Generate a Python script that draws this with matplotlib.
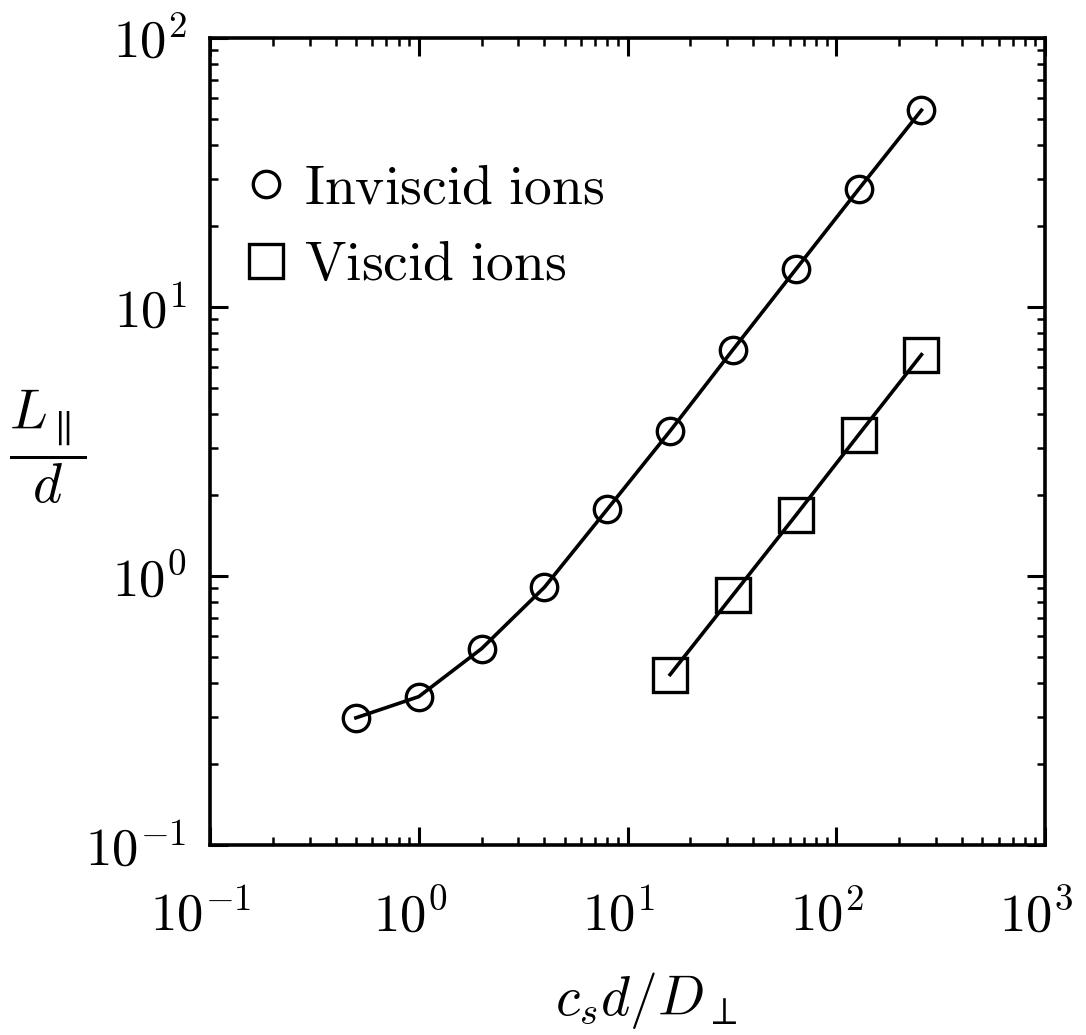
import numpy as np
import matplotlib
matplotlib.use("Agg")
import matplotlib.pyplot as plt
import matplotlib.transforms as mtransforms
from matplotlib.ticker import LogLocator, NullFormatter, FuncFormatter

# Data
x_inviscid = [0.5, 1, 2, 4, 8, 16, 32, 64, 128, 256]
y_inviscid = [0.297, 0.356, 0.537, 0.908, 1.77, 3.46, 6.94, 13.8, 27.4, 53.9]
x_viscid = [16, 32, 64, 128, 256]
y_viscid = [0.43, 0.85, 1.68, 3.35, 6.65]
labels = ["Inviscid ions", "Viscid ions"]

plt.rcParams['mathtext.fontset'] = 'cm'
plt.rcParams['font.family'] = ['DejaVu Serif']

fig = plt.figure(figsize=(10.86, 10.35), dpi=100)
ax = fig.add_axes([210/1086, 1 - 845/1035, (1045-210)/1086, (845-38)/1035])

def mlabel(s):
    return r'$\mathrm{' + s.replace(' ', r'\ ') + '}$'

ax.plot(x_inviscid, y_inviscid, color='black', lw=2.6, marker='o', ms=19,
        mfc='none', mec='black', mew=2.4, label=mlabel(labels[0]))
ax.plot(x_viscid, y_viscid, color='black', lw=2.6, marker='s', ms=25,
        mfc='none', mec='black', mew=2.4, label=mlabel(labels[1]))

ax.set_xscale('log')
ax.set_yscale('log')
ax.set_xlim(0.1, 1000)
ax.set_ylim(0.1, 100)

fmt = FuncFormatter(lambda v, p: r'$10^{%d}$' % int(round(np.log10(v))))
for a in (ax.xaxis, ax.yaxis):
    a.set_major_locator(LogLocator(base=10, numticks=10))
    a.set_minor_locator(LogLocator(base=10, subs=np.arange(2, 10), numticks=20))
    a.set_minor_formatter(NullFormatter())
    a.set_major_formatter(fmt)

ax.tick_params(which='both', direction='in', top=True, right=True, color='black')
ax.tick_params(which='major', length=13, width=2.2, labelsize=38)
ax.tick_params(which='minor', length=6, width=1.8)
ax.tick_params(axis='y', which='major', pad=17)
ax.tick_params(axis='x', which='major', pad=33)
for s in ax.spines.values():
    s.set_linewidth(2.6)

# shift x tick labels so the "10" sits centred under the tick
offset = mtransforms.ScaledTranslation(-9/100, 0, fig.dpi_scale_trans)
for lab in ax.xaxis.get_majorticklabels():
    lab.set_transform(lab.get_transform() + offset)

ax.set_xlabel(r'$c_s d/D_\perp$', fontsize=40, va='center')
ax.xaxis.set_label_coords(0.522, -0.193)
ax.set_ylabel(r'$\dfrac{L_{\parallel}}{d}$', fontsize=40, rotation=0, va='center', ha='center')
ax.yaxis.set_label_coords(-0.195, 0.493)

leg = ax.legend(loc='upper left', bbox_to_anchor=(-0.02, 0.917), frameon=False,
                fontsize=40, handlelength=0.6, handletextpad=0.4,
                labelspacing=0.4, borderaxespad=0.6)
for h in leg.legend_handles:
    h.set_linestyle('none')

fig.savefig('out.png', dpi=100)
